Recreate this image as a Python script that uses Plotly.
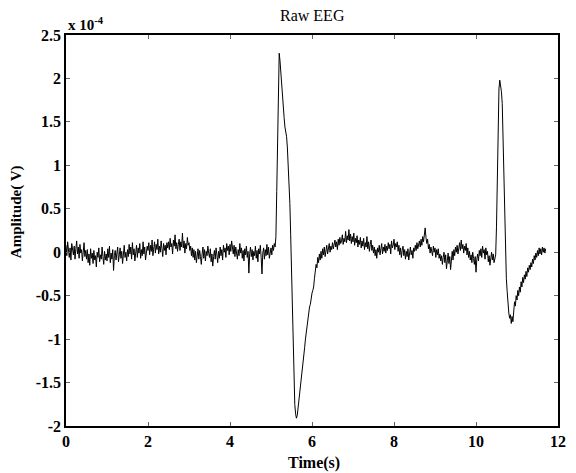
import plotly.graph_objects as go

# Sampling interval of the trace (s)
sample_interval = 0.02

# Amplitude in units of 1e-4 V (one value per 0.02 s)
amp_baseline = [
    0.08, -0.04, 0.12, 0.01, -0.06, 0.05, -0.09, 0.10, 0.02, -0.03, 0.07, -0.08, 0.04, 0.13, -0.02, 0.06, -0.07, 0.09, -0.01, 0.03, -0.10, 0.05, 0.11, -0.05, 0.02,
    -0.08, 0.03, -0.12, -0.02, -0.15, 0.04, -0.07, -0.01, -0.13, 0.02, -0.09, -0.04, -0.17, 0.00, -0.06, 0.05, -0.11, -0.03, -0.08, 0.06, -0.05, -0.14, 0.01, -0.09, -0.02,
    -0.10, 0.04, -0.06, 0.07, -0.12, -0.01, -0.08, 0.03, -0.21, -0.04, 0.02, -0.09, -0.03, 0.06, -0.11, -0.02, 0.05, -0.07, 0.01, -0.13, -0.04, 0.08, -0.06, 0.00, -0.10,
    0.03, -0.05, 0.09, -0.02, 0.06, -0.08, 0.11, -0.03, 0.04, -0.10, 0.02, 0.08, -0.06, 0.05, -0.01, 0.10, -0.07, 0.03, -0.04, 0.12, -0.02, 0.06, -0.09, 0.01, 0.07,
    0.02, 0.11, -0.03, 0.08, 0.01, 0.14, -0.04, 0.06, 0.12, -0.01, 0.09, 0.03, 0.15, -0.02, 0.07, 0.00, 0.13, 0.04, -0.05, 0.10, 0.02, 0.08, -0.03, 0.11, 0.05,
    0.12, 0.03, 0.16, 0.06, 0.10, -0.02, 0.14, 0.07, 0.20, 0.04, 0.11, 0.01, 0.09, 0.15, 0.02, 0.12, 0.06, 0.22, 0.05, 0.13, -0.01, 0.10, 0.04, 0.17, 0.08,
    0.11, 0.02, 0.07, -0.04, 0.05, -0.06, 0.03, -0.09, 0.01, -0.12, -0.03, 0.04, -0.08, 0.02, -0.05, -0.14, -0.02, 0.06, -0.07, 0.03, -0.10, 0.01, -0.04, 0.07, -0.01,
    -0.06, 0.04, -0.11, -0.02, -0.16, -0.05, 0.02, -0.08, 0.05, -0.03, -0.12, 0.01, -0.07, 0.06, -0.04, 0.03, -0.09, 0.08, 0.00, 0.05, -0.06, 0.10, 0.02, 0.07, -0.03,
    0.09, 0.01, 0.13, 0.04, -0.02, 0.08, -0.05, 0.06, 0.00, -0.08, 0.03, -0.04, 0.10, -0.01, 0.05, -0.07, 0.02, -0.10, 0.04, -0.03, 0.07, -0.06, 0.01, -0.24, -0.02,
    0.06, -0.05, 0.03, -0.09, 0.01, -0.04, 0.07, -0.07, 0.02, -0.11, 0.04, -0.02, 0.08, -0.06, -0.25, -0.01, 0.05, -0.08, 0.03, -0.04, 0.09, -0.03, 0.06, -0.07, 0.02,
    0.05, -0.03, 0.08, 0.02, 0.10, 0.06,
]
amp_spike1 = [
    0.18, 0.70, 1.35, 1.95, 2.29, 2.20, 2.05, 1.94, 1.80, 1.66,
    1.55, 1.44, 1.40, 1.33, 1.20, 1.02, 0.82, 0.56, 0.20, -0.21,
    -0.70, -1.20, -1.55, -1.75, -1.86, -1.91, -1.88, -1.80, -1.70, -1.64,
    -1.55, -1.45, -1.36, -1.28, -1.22, -1.10, -1.00, -0.92, -0.88, -0.76,
    -0.70, -0.63, -0.60, -0.52, -0.47, -0.44, -0.40, -0.30, -0.20, -0.14,
    -0.18, -0.06, -0.12, -0.02, -0.09,
]
amp_middle = [
    0.01, -0.07, 0.04, -0.03, 0.06, -0.05, 0.02, 0.08, -0.02, 0.05, 0.10, 0.00, 0.07, 0.03, 0.11,
    0.04, 0.09, 0.14, 0.06, 0.12, 0.03, 0.15, 0.08, 0.17, 0.10, 0.13, 0.20, 0.09, 0.16, 0.12, 0.24, 0.11, 0.19, 0.14, 0.26,
    0.13, 0.21, 0.10, 0.18, 0.12, 0.22, 0.08, 0.16, 0.11, 0.19, 0.06, 0.14, 0.09, 0.17, 0.05,
    0.13, 0.07, 0.16, 0.03, 0.11, 0.06, 0.18, 0.04, 0.12, 0.01, 0.09, 0.14, 0.02, 0.08, -0.01,
    0.06, -0.04, 0.03, -0.07, 0.05, 0.00, 0.08, -0.03, 0.04, 0.10, -0.02, 0.06, 0.01, 0.09, -0.01,
    0.07, 0.02, 0.11, 0.04, 0.09, -0.02, 0.13, 0.05, 0.08, 0.15, 0.03, 0.10, 0.06, 0.12, 0.01,
    0.08, -0.03, 0.05, -0.06, 0.02, 0.07, -0.04, 0.03, -0.08, 0.01, -0.05, 0.04, -0.09, 0.00, 0.06, -0.03, 0.02, -0.07, 0.05, 0.01,
    0.08, 0.02, 0.11, 0.04, 0.09, 0.13, 0.06, 0.15, 0.08, 0.18,
    0.12, 0.21, 0.28, 0.17, 0.10,
    0.15, 0.04, 0.09, -0.01, 0.06, 0.02, -0.04, 0.07, 0.00, 0.05, -0.06, 0.03, -0.03, 0.04, -0.07,
    -0.02, -0.10, -0.04, -0.14, -0.06, 0.00, -0.12, -0.03, -0.19, -0.08, -0.01, -0.13, -0.05, -0.20, -0.07, 0.01, -0.09,
    0.03, -0.04, 0.06, 0.00, 0.08, -0.02, 0.05, 0.11, 0.02, 0.14, 0.04, 0.09, -0.01, 0.07, 0.02, 0.10, -0.03, 0.05,
    -0.06, 0.01, -0.09, -0.03, -0.12, 0.00, -0.07, -0.14, -0.05, -0.23, -0.08, -0.02, -0.10, 0.02, -0.04,
    0.04, -0.06, 0.07, -0.01, 0.03, -0.08, 0.05, -0.03, 0.01, -0.11, -0.04, -0.15, -0.06, 0.00, -0.09, -0.02, -0.12, -0.05,
]
amp_spike2 = [
    -0.03, 0.30, 0.95, 1.55, 1.88, 1.98, 1.92, 1.85, 1.71, 1.30,
    0.85, 0.37, 0.05, -0.30, -0.45, -0.60, -0.70, -0.76, -0.72, -0.82,
    -0.74, -0.80, -0.62, -0.57, -0.62, -0.50, -0.55, -0.44, -0.50, -0.40,
    -0.46, -0.34, -0.40, -0.29, -0.35, -0.26, -0.31, -0.22, -0.28, -0.18,
    -0.23, -0.15, -0.20, -0.12, -0.17, -0.08, -0.13, -0.04, -0.09, -0.01,
    -0.06, 0.02, -0.04, 0.05, -0.02, 0.04, -0.03, 0.06, 0.00, 0.05,
    -0.01, 0.04,
]

amp_e4 = amp_baseline + amp_spike1 + amp_middle + amp_spike2
time_s = [round(i * sample_interval, 2) for i in range(len(amp_e4))]

x_ticks = [0, 2, 4, 6, 8, 10, 12]
x_tick_text = ["0", "2", "4", "6", "8", "10", "12"]
y_ticks = [-2, -1.5, -1, -0.5, 0, 0.5, 1, 1.5, 2, 2.5]
y_tick_text = ["-2", "-1.5", "-1", "-0.5", "0", "0.5", "1", "1.5", "2", "2.5"]

serif = "Liberation Serif, Times New Roman, serif"

fig = go.Figure()
fig.add_trace(go.Scatter(x=time_s, y=amp_e4, mode="lines",
                         line=dict(color="black", width=1.0), showlegend=False))

axis_common = dict(showline=True, linecolor="black", linewidth=1.5, mirror="ticks",
                   ticks="inside", ticklen=4, tickwidth=1, tickcolor="#666",
                   showgrid=False, zeroline=False,
                   tickfont=dict(family=serif, size=16, color="black"))

fig.update_layout(
    width=576, height=473,
    margin=dict(l=66, r=10, t=35, b=47),
    paper_bgcolor="white", plot_bgcolor="white",
    xaxis=dict(range=[0, 12], tickvals=x_ticks,
               ticktext=[f"<b>{t}</b>" for t in x_tick_text], **axis_common),
    yaxis=dict(range=[-2, 2.5], tickvals=y_ticks,
               ticktext=[f"<b>{t}</b>" for t in y_tick_text], **axis_common),
    annotations=[
        dict(text="Raw EEG", xref="paper", yref="paper", x=0.501, y=1.050,
             xanchor="center", yanchor="middle", showarrow=False,
             font=dict(family=serif, size=16, color="black")),
        dict(text="<b>Time(s)</b>", xref="paper", yref="paper", x=0.504, y=-0.095,
             xanchor="center", yanchor="middle", showarrow=False,
             font=dict(family=serif, size=16, color="black")),
        dict(text="<b>Amplitude( V)</b>", xref="paper", yref="paper", x=-0.10, y=0.549,
             xanchor="center", yanchor="middle", showarrow=False, textangle=-90,
             font=dict(family=serif, size=15, color="black")),
        dict(text="<b>x 10<sup>-4</sup></b>", xref="paper", yref="paper", x=0, y=1,
             xanchor="left", yanchor="bottom", showarrow=False,
             font=dict(family=serif, size=15, color="black")),
    ],
)

fig.write_html("out.html")
